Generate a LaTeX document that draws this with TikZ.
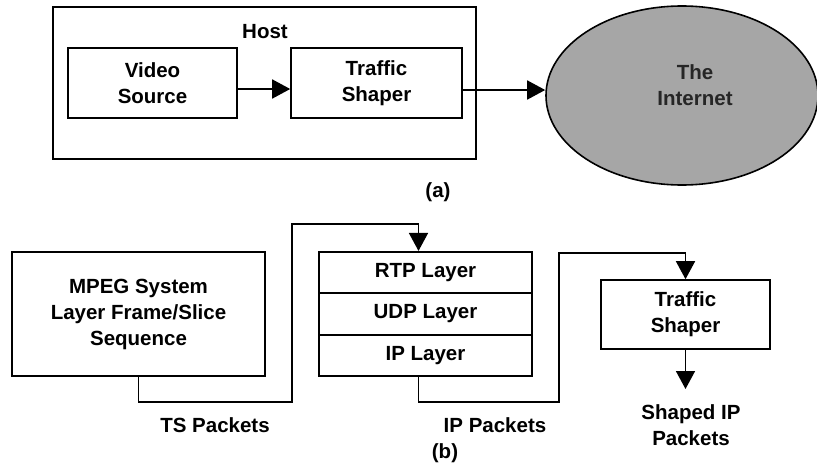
\documentclass[tikz,border=0pt]{standalone}
\usepackage{fontspec}
\setmainfont{Liberation Sans}
\usetikzlibrary{shapes.geometric,arrows.meta}
\begin{document}
\begin{tikzpicture}[x=1pt,y=-1pt,
  font=\bfseries\fontsize{20.5}{26}\selectfont,
  box/.style={draw,line width=1.6pt,inner sep=0pt,align=center},
  lbl/.style={inner sep=0pt,align=center},
  conn/.style={line width=1.6pt},
  arr/.style={conn,-{Triangle[length=18pt,width=19pt]}},
]
\useasboundingbox (0,0) rectangle (817,466);
% (a)
\node[box,minimum width=423,minimum height=152] (host) at (264.5,83) {};
\node[lbl] (hostlbl) at (265,32) {Host};
\node[box,minimum width=169,minimum height=70] (vs) at (152.5,83) {Video\\Source};
\node[box,minimum width=171,minimum height=70] (ts) at (376.5,83) {Traffic\\Shaper};
\node[box,ellipse,fill=black!35,minimum width=272,minimum height=179] (inet) at (682,95.5) {};
\node[lbl,text=black!85] (inettxt) at (695,85) {The\\Internet};
\draw[arr] ([yshift=-6pt]vs.east) -- ([yshift=-6pt]ts.west);
\draw[arr] ([yshift=-7pt]ts.east) -- ([yshift=-7pt]ts.east -| inet.west);
\node[lbl] (capa) at (438,192) {(a)};
% (b)
\node[box,minimum width=253,minimum height=124] (mpeg) at (138.5,314) {MPEG System\\Layer Frame/Slice\\Sequence};
\node[box,minimum width=213,minimum height=41.5] (rtp) at (425.5,272.5) {RTP Layer};
\node[box,minimum width=213,minimum height=41.5] (udp) at (425.5,314) {UDP Layer};
\node[box,minimum width=213,minimum height=41.5] (ip) at (425.5,355.5) {IP Layer};
\node[box,minimum width=169,minimum height=69] (ts2) at (685.5,314.5) {Traffic\\Shaper};
\coordinate (t1) at (292,402);
\coordinate (t2) at (292,224);
\coordinate (u1) at (559,402);
\coordinate (u2) at (559,253);
\coordinate (e1) at (685.5,389);
\draw[arr] (mpeg.south) |- (t1) -- (t2) -| ([xshift=-7pt]rtp.north);
\draw[arr] ([xshift=-7pt]ip.south) |- (u1) -- (u2) -| (ts2.north);
\draw[arr] (ts2.south) -- (e1);
\node[lbl] (tslbl) at (215,425) {TS Packets};
\node[lbl] (iplbl) at (495,425) {IP Packets};
\node[lbl] (shaped) at (691,425) {Shaped IP\\Packets};
\node[lbl] (capb) at (445,453) {(b)};
\end{tikzpicture}
\end{document}
